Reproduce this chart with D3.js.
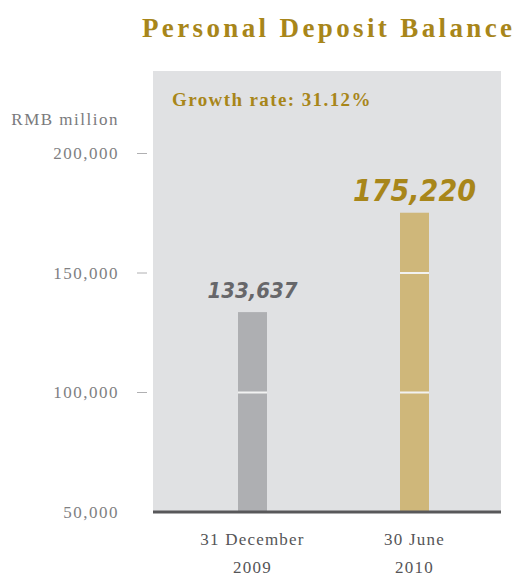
<!DOCTYPE html>
<html>
<head>
<meta charset="utf-8">
<script src="https://cdn.jsdelivr.net/npm/d3@7"></script>
<style>
  html, body { margin: 0; padding: 0; background: #ffffff; }
  svg { display: block; }
</style>
</head>
<body>
<svg id="chart" width="515" height="577"></svg>
<script>
// Personal deposit balance, RMB million
const categories = ["31 December 2009", "30 June 2010"];
const categoryLines = [["31 December", "2009"], ["30 June", "2010"]];
const balances = [133637, 175220];
const barLabels = ["133,637", "175,220"];
const yTicks = [50000, 100000, 150000, 200000];
const growthText = "Growth rate: 31.12%";
const titleText = "Personal Deposit Balance";
const unitText = "RMB million";

const gold = "#a8861a";
const barColors = ["#aeafb2", "#cfb77a"];
const labelColors = ["#67676a", gold];
const labelSizes = [22, 30];
const serif = "'Liberation Serif', 'Times New Roman', serif";
const hand = "'DejaVu Sans Condensed', 'DejaVu Sans', sans-serif";

const svg = d3.select("#chart");

const panel = { left: 153, right: 501, top: 71 };
const y = d3.scaleLinear().domain([50000, 200000]).range([512, 153.5]);
const x = d3.scalePoint().domain(categories).range([252.5, 414.5]);
const barW = 29;

// grey plotting panel
svg.append("rect")
  .attr("x", panel.left).attr("y", panel.top)
  .attr("width", panel.right - panel.left)
  .attr("height", y(50000) - panel.top)
  .attr("fill", "#e0e1e3");

// title
svg.append("text")
  .attr("x", 142).attr("y", 37)
  .attr("textLength", 370).attr("lengthAdjust", "spacing")
  .attr("font-family", serif).attr("font-size", 27).attr("font-weight", "bold")
  .attr("fill", gold)
  .text(titleText);

// growth rate note
svg.append("text")
  .attr("x", 172).attr("y", 106)
  .attr("font-family", serif).attr("font-size", 19).attr("font-weight", "bold")
  .attr("letter-spacing", 1.4)
  .attr("fill", gold)
  .text(growthText);

// unit label
svg.append("text")
  .attr("x", 119).attr("y", 125)
  .attr("text-anchor", "end")
  .attr("font-family", serif).attr("font-size", 17)
  .attr("letter-spacing", 1.5)
  .attr("fill", "#7a7a7c")
  .text(unitText);

// y axis: labels and short dashes
const yAxis = svg.append("g");
yAxis.selectAll("text.tick")
  .data(yTicks)
  .join("text")
  .attr("class", "tick")
  .attr("x", 119)
  .attr("y", d => y(d))
  .attr("dy", "0.35em")
  .attr("text-anchor", "end")
  .attr("font-family", serif).attr("font-size", 17)
  .attr("letter-spacing", 1.5)
  .attr("fill", "#808082")
  .text(d => d3.format(",")(d));

yAxis.selectAll("line.dash")
  .data(yTicks.filter(d => d > 50000))
  .join("line")
  .attr("class", "dash")
  .attr("x1", 137).attr("x2", 147)
  .attr("y1", d => y(d)).attr("y2", d => y(d))
  .attr("stroke", "#b0b0b2").attr("stroke-width", 1);

// bars
const bars = svg.append("g");
bars.selectAll("rect")
  .data(balances)
  .join("rect")
  .attr("x", (d, i) => x(categories[i]) - barW / 2)
  .attr("y", d => y(d))
  .attr("width", barW)
  .attr("height", d => y(50000) - y(d))
  .attr("fill", (d, i) => barColors[i]);

// white breaks across each bar at the gridline values
balances.forEach((v, i) => {
  bars.selectAll(null)
    .data(yTicks.filter(t => t > 50000 && t < v))
    .join("line")
    .attr("x1", x(categories[i]) - barW / 2)
    .attr("x2", x(categories[i]) + barW / 2)
    .attr("y1", t => y(t)).attr("y2", t => y(t))
    .attr("stroke", "#f2f2f2").attr("stroke-width", 2);
});

// value labels above the bars
svg.append("g").selectAll("text")
  .data(balances)
  .join("text")
  .attr("x", (d, i) => x(categories[i]))
  .attr("y", (d, i) => y(d) - (i === 0 ? 14 : 12))
  .attr("text-anchor", "middle")
  .attr("font-family", hand)
  .attr("font-style", "italic").attr("font-weight", "bold")
  .attr("font-size", (d, i) => labelSizes[i])
  .attr("fill", (d, i) => labelColors[i])
  .text((d, i) => barLabels[i]);

// baseline
svg.append("line")
  .attr("x1", panel.left).attr("x2", panel.right)
  .attr("y1", y(50000)).attr("y2", y(50000))
  .attr("stroke", "#58585a").attr("stroke-width", 3);

// category labels
const cat = svg.append("g").selectAll("text")
  .data(categories)
  .join("text")
  .attr("x", d => x(d))
  .attr("text-anchor", "middle")
  .attr("font-family", serif).attr("font-size", 17)
  .attr("letter-spacing", 1.2)
  .attr("fill", "#555557");
cat.append("tspan").attr("x", d => x(d)).attr("y", 545)
  .text((d, i) => categoryLines[i][0]);
cat.append("tspan").attr("x", d => x(d)).attr("y", 573)
  .text((d, i) => categoryLines[i][1]);
</script>
</body>
</html>
